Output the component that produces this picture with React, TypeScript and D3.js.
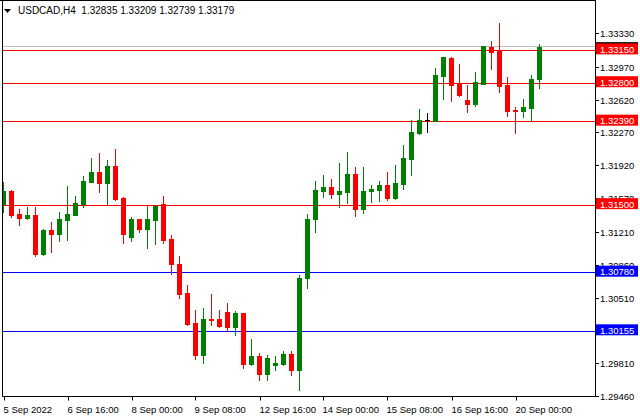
import React from "react";
import * as d3 from "d3";

const title = "USDCAD,H4  1.32835 1.33209 1.32739 1.33179";

const opens = [1.31507,1.31646,1.314,1.31361,1.3139,1.30977,1.31233,1.3119,1.3134,1.31393,1.31507,1.31742,1.31848,1.31731,1.31912,1.31571,1.31155,1.31347,1.3124,1.31336,1.31504,1.31134,1.30867,1.30558,1.30238,1.299,1.30281,1.30281,1.30356,1.30199,1.30345,1.29804,1.29886,1.29698,1.29794,1.29804,1.29908,1.2974,1.30718,1.31347,1.31646,1.31688,1.31614,1.31635,1.31827,1.31454,1.31646,1.31656,1.3171,1.31571,1.3172,1.31987,1.32267,1.32403,1.32395,1.32872,1.33064,1.32786,1.32616,1.32573,1.32786,1.33181,1.33138,1.32776,1.32509,1.32498,1.3253,1.32835];
const highs = [1.31742,1.31656,1.31454,1.31475,1.31475,1.3124,1.31315,1.31422,1.31699,1.31592,1.31806,1.31997,1.32051,1.31976,1.32093,1.31582,1.31368,1.31347,1.31486,1.31496,1.31592,1.31176,1.30953,1.30643,1.30377,1.30398,1.30548,1.30377,1.30452,1.30366,1.30345,1.30068,1.29918,1.299,1.29886,1.29943,1.29943,1.3075,1.314,1.31752,1.31816,1.31774,1.31944,1.32061,1.31901,1.31901,1.3171,1.31752,1.31848,1.31923,1.32136,1.32403,1.3252,1.32477,1.32957,1.33074,1.33074,1.33,1.32776,1.32914,1.33191,1.33245,1.33437,1.32861,1.32541,1.32626,1.32882,1.33209];
const lows = [1.31425,1.31372,1.31286,1.31347,1.30956,1.30967,1.30998,1.31116,1.31126,1.31393,1.31475,1.31742,1.31635,1.31507,1.3155,1.31091,1.31113,1.31208,1.31038,1.31081,1.31094,1.30761,1.30508,1.3022,1.29858,1.29815,1.3022,1.30199,1.30156,1.30114,1.29762,1.29794,1.29634,1.29634,1.2974,1.29794,1.29687,1.29527,1.30611,1.31212,1.31585,1.31571,1.31475,1.31518,1.31379,1.31411,1.31528,1.31539,1.3155,1.3156,1.31667,1.31816,1.32256,1.32278,1.32395,1.32626,1.32605,1.32658,1.32488,1.32552,1.32786,1.32946,1.32701,1.32445,1.32267,1.32434,1.32392,1.32739];
const closes = [1.31646,1.31393,1.31361,1.3139,1.30977,1.31233,1.3119,1.31347,1.314,1.31518,1.31752,1.31848,1.31731,1.31912,1.3156,1.31187,1.31347,1.3124,1.31347,1.31486,1.31123,1.30867,1.30551,1.30231,1.299,1.30281,1.3027,1.3021,1.30199,1.30345,1.29804,1.29886,1.29698,1.29868,1.29815,1.29908,1.2974,1.30718,1.31347,1.31656,1.31688,1.31614,1.31646,1.31827,1.31454,1.31646,1.31667,1.3171,1.31571,1.31731,1.31997,1.32275,1.32403,1.32403,1.32882,1.33074,1.32776,1.32669,1.32573,1.32804,1.33191,1.33127,1.32765,1.32498,1.32502,1.32541,1.32835,1.33179];

const timeLabelBars = [0, 8, 16, 24, 32, 40, 48, 56, 64];
const timeLabels = ["5 Sep 2022", "6 Sep 16:00", "8 Sep 00:00", "9 Sep 08:00", "12 Sep 16:00", "14 Sep 00:00", "15 Sep 08:00", "16 Sep 16:00", "20 Sep 00:00"];

const priceTicks = [1.3333, 1.3297, 1.3262, 1.3227, 1.3192, 1.3157, 1.3121, 1.3086, 1.3051, 1.3016, 1.2981, 1.2946];

const redLevels = [1.3315, 1.328, 1.3239, 1.315];
const blueLevels = [1.3078, 1.30155];

const W = 640;
const H = 420;
const plotLeft = 2.5;
const plotRight = 595.5;
const plotBottom = 396.5;
const FONT = "Liberation Sans, Arial, sans-serif";

export default function App() {
  const y = d3.scaleLinear().domain([1.2946, 1.3333]).range([396, 33]);
  const x = d3.scaleLinear().domain([0, opens.length - 1]).range([3.5, 3.5 + 8 * (opens.length - 1)]);
  const fmt = d3.format(".5f");
  const lastClose = closes[closes.length - 1];

  const candles = opens.map((o, i) => {
    const c = closes[i];
    const cx = x(i);
    const color = c > o ? "#008000" : c < o ? "#ff0000" : "#000000";
    const yTop = Math.round(y(Math.max(o, c)));
    const yBot = Math.round(y(Math.min(o, c)));
    const yH = Math.round(y(highs[i]));
    const yL = Math.round(y(lows[i]));
    return (
      <g key={i}>
        <line x1={cx} x2={cx} y1={yH} y2={yL + 1} stroke={color} strokeWidth={1} />
        <rect x={cx - 2.5} y={yTop} width={5} height={Math.max(1, yBot - yTop + 1)} fill={color} />
      </g>
    );
  });

  const levelLabel = (p: number, color: string, key: string) => {
    const yy = y(p);
    return (
      <g key={key}>
        <rect x={596} y={yy - 6.5} width={42} height={11} fill={color} />
        <text x={600} y={yy + 3} fontFamily={FONT} fontSize={9.5} fill="#ffffff">{fmt(p)}</text>
      </g>
    );
  };

  return (
    <svg width={W} height={H} style={{ position: "absolute", left: 0, top: 0, background: "#ffffff" }}>
      <rect x={0} y={0} width={W} height={H} fill="#ffffff" />
      <defs>
        <clipPath id="plotclip">
          <rect x={3} y={1} width={592} height={395.5} />
        </clipPath>
      </defs>
      <g clipPath="url(#plotclip)">
        {redLevels.map((p, i) => (
          <line key={"r" + i} x1={plotLeft} x2={plotRight} y1={Math.round(y(p)) + 0.5} y2={Math.round(y(p)) + 0.5} stroke="#ff0000" strokeWidth={1} />
        ))}
        {blueLevels.map((p, i) => (
          <line key={"b" + i} x1={plotLeft} x2={plotRight} y1={Math.round(y(p)) + 0.5} y2={Math.round(y(p)) + 0.5} stroke="#0000ff" strokeWidth={1} />
        ))}
        <line x1={plotLeft} x2={plotRight} y1={Math.round(y(lastClose)) - 0.5} y2={Math.round(y(lastClose)) - 0.5} stroke="#c0c0c0" strokeWidth={1} />
        {candles}
      </g>
      {/* frame */}
      <line x1={0} x2={plotRight} y1={0.5} y2={0.5} stroke="#000" />
      <line x1={plotLeft} x2={plotLeft} y1={0} y2={plotBottom} stroke="#000" />
      <line x1={plotRight} x2={plotRight} y1={0} y2={plotBottom} stroke="#000" />
      <line x1={plotLeft} x2={plotRight} y1={plotBottom} y2={plotBottom} stroke="#000" />
      {/* title */}
      <path d="M4,9 L11,9 L7.5,13 Z" fill="#000" />
      <text x={18} y={14} fontFamily={FONT} fontSize={10} fill="#000" style={{ whiteSpace: "pre" }}>{title}</text>
      {/* price axis */}
      {priceTicks.map((p, i) => {
        const yy = Math.round(y(p)) + 0.5;
        return (
          <g key={"t" + i}>
            <line x1={plotRight} x2={599} y1={yy} y2={yy} stroke="#000" />
            <text x={600} y={yy + 3.5} fontFamily={FONT} fontSize={9.5} fill="#000">{fmt(p)}</text>
          </g>
        );
      })}
      {/* bid label sliver */}
      <rect x={596} y={y(lastClose) - 5} width={42} height={10} fill="#000" />
      {redLevels.map((p, i) => levelLabel(p, "#ff0000", "rl" + i))}
      {blueLevels.map((p, i) => levelLabel(p, "#0000ff", "bl" + i))}
      {/* time axis */}
      {timeLabelBars.map((b, i) => {
        const xx = Math.round(x(b)) + 0.5;
        return (
          <g key={"x" + i}>
            <line x1={xx} x2={xx} y1={plotBottom} y2={plotBottom + 4} stroke="#000" />
            <text x={xx - 1} y={413} fontFamily={FONT} fontSize={9.5} fill="#000">{timeLabels[i]}</text>
          </g>
        );
      })}
    </svg>
  );
}
